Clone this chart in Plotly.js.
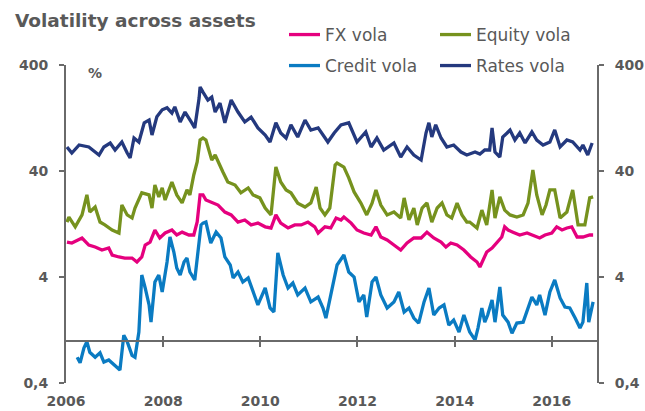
<!DOCTYPE html>
<html>
<head>
<meta charset="utf-8">
<script src="https://cdn.plot.ly/plotly-3.0.1.min.js"></script>
<style>html,body{margin:0;padding:0;background:#fff;}#chart{width:645px;height:411px;}</style>
</head>
<body>
<div id="chart"></div>
<script>
// ---- data ----
var rtYears = [2006.02,2006.12,2006.27,2006.47,2006.60,2006.68,2006.78,2006.91,2007.01,2007.15,2007.26,2007.32,2007.40,2007.50,2007.61,2007.71,2007.77,2007.87,2007.98,2008.08,2008.18,2008.24,2008.35,2008.45,2008.59,2008.65,2008.74,2008.76,2008.82,2008.86,2008.92,2009.00,2009.07,2009.17,2009.27,2009.40,2009.54,2009.68,2009.81,2009.95,2010.10,2010.20,2010.32,2010.42,2010.53,2010.63,2010.77,2010.92,2011.04,2011.19,2011.33,2011.39,2011.52,2011.66,2011.82,2011.99,2012.17,2012.28,2012.40,2012.54,2012.75,2012.89,2013.02,2013.16,2013.31,2013.41,2013.47,2013.53,2013.61,2013.72,2013.84,2013.98,2014.13,2014.25,2014.42,2014.52,2014.62,2014.72,2014.77,2014.83,2014.93,2014.99,2015.08,2015.14,2015.24,2015.34,2015.45,2015.59,2015.69,2015.82,2015.96,2016.06,2016.17,2016.31,2016.43,2016.58,2016.64,2016.74,2016.83];
var rtVals  = [67.4,59.1,70.4,67.4,60.4,56.6,67.4,73.5,63.1,75.1,59.1,53.1,81.9,75.1,113.8,121,87.4,130,151,158,141,161,116,144,113.8,102,195,248,222,208,187,199,144,175,114,187,144,116,129,102,87.4,75.1,114,91.3,81.9,109,83.7,121,97.5,102,81.9,75.1,91.3,109,114,75.1,93.3,67.4,81.9,63.1,73.5,54.2,67.4,56.6,50.8,91.3,114,83.7,109,81.9,67.4,70.4,60.4,56.6,60.4,57.8,63.1,63.1,102,60.4,54.2,83.7,91.3,97.5,78.4,91.3,73.5,93.3,78.4,70.4,75.1,97.5,67.4,78.4,75.1,63.1,70.4,56.6,73.5];

var eqYears = [2006.02,2006.06,2006.19,2006.33,2006.43,2006.49,2006.60,2006.70,2006.80,2006.95,2007.09,2007.15,2007.26,2007.36,2007.42,2007.56,2007.71,2007.77,2007.83,2007.91,2007.98,2008.04,2008.18,2008.28,2008.39,2008.49,2008.55,2008.63,2008.70,2008.76,2008.82,2008.88,2008.94,2009.00,2009.07,2009.13,2009.23,2009.33,2009.48,2009.60,2009.75,2009.85,2009.99,2010.10,2010.22,2010.32,2010.42,2010.53,2010.63,2010.77,2010.92,2011.04,2011.15,2011.23,2011.33,2011.43,2011.54,2011.58,2011.72,2011.82,2011.93,2012.07,2012.19,2012.30,2012.38,2012.48,2012.61,2012.75,2012.89,2012.96,2013.06,2013.16,2013.23,2013.33,2013.43,2013.53,2013.64,2013.74,2013.84,2013.94,2014.05,2014.15,2014.25,2014.31,2014.46,2014.56,2014.66,2014.77,2014.83,2014.93,2015.03,2015.14,2015.28,2015.41,2015.51,2015.61,2015.69,2015.80,2015.88,2015.96,2016.06,2016.17,2016.31,2016.43,2016.54,2016.68,2016.78,2016.85];
var eqVals  = [13.2,14.7,11.9,15.4,23.8,16.4,18.3,13.2,12.4,11.1,10.4,19.1,15.4,14.4,17.9,24.9,23.8,17.9,29.5,22.8,27.7,21.3,31.5,23.8,20.0,26.5,23.8,36.7,48.6,78.4,81.9,78.4,63.1,50.8,56.6,48.6,39.1,31.5,29.5,24.9,27.7,23.8,22.3,17.9,15.4,43.6,31.5,26.5,24.9,19.9,18.3,20.0,28.2,17.9,15.4,17.9,45.6,47.6,43.6,34.4,25.4,19.9,15.4,19.9,26.5,19.1,15.4,16.4,14.4,22.3,13.8,17.9,12.4,17.9,20.0,13.2,17.9,20.0,15.4,14.4,19.9,15.4,13.2,13.2,11.6,17.1,12.4,26.5,14.4,22.8,17.1,15.4,14.7,15.4,19.9,40.9,23.8,15.4,19.1,26.5,26.5,14.4,16.4,26.5,12.4,12.4,22.3,22.8];

var fxYears = [2006.02,2006.12,2006.33,2006.47,2006.60,2006.74,2006.88,2006.95,2007.09,2007.21,2007.36,2007.46,2007.56,2007.63,2007.73,2007.83,2007.93,2008.04,2008.18,2008.28,2008.39,2008.53,2008.63,2008.70,2008.76,2008.82,2008.88,2008.98,2009.13,2009.27,2009.40,2009.54,2009.68,2009.81,2009.95,2010.10,2010.22,2010.32,2010.42,2010.57,2010.71,2010.84,2010.98,2011.12,2011.19,2011.33,2011.45,2011.56,2011.66,2011.72,2011.87,2011.99,2012.13,2012.28,2012.38,2012.48,2012.61,2012.75,2012.89,2013.02,2013.16,2013.31,2013.43,2013.57,2013.72,2013.82,2013.92,2014.05,2014.19,2014.33,2014.46,2014.52,2014.58,2014.66,2014.77,2014.87,2014.97,2015.03,2015.10,2015.20,2015.34,2015.49,2015.61,2015.75,2015.86,2016.00,2016.10,2016.21,2016.31,2016.41,2016.52,2016.64,2016.78,2016.85];
var fxVals  = [8.55,8.37,9.33,8.01,7.67,7.19,7.51,6.45,6.18,6.04,6.04,5.54,6.18,8.01,8.55,11.1,9.33,10.4,11.1,9.96,10.6,9.96,9.96,13.2,23.8,23.8,21.3,20.4,19.1,16.4,15.4,13.2,13.8,12.4,12.9,11.9,11.6,15.4,12.9,11.6,12.4,12.4,13.2,11.9,10.4,11.9,11.6,14.4,13.8,14.7,12.9,11.1,10.4,9.96,11.9,9.54,8.93,8.01,7.19,8.37,9.33,9.33,10.6,9.33,8.55,7.67,8.37,8.01,7.19,6.18,5.54,4.97,5.79,6.88,7.51,8.55,9.54,11.9,11.1,10.6,9.96,10.4,9.96,9.33,9.96,10.4,11.9,11.1,11.6,11.9,9.54,9.54,9.96,9.96];

var crYears = [2006.23,2006.29,2006.37,2006.43,2006.49,2006.60,2006.70,2006.78,2006.88,2007.01,2007.11,2007.19,2007.26,2007.36,2007.42,2007.50,2007.56,2007.63,2007.71,2007.75,2007.83,2007.91,2007.98,2008.08,2008.14,2008.22,2008.28,2008.35,2008.43,2008.49,2008.55,2008.65,2008.74,2008.78,2008.82,2008.88,2008.98,2009.09,2009.19,2009.27,2009.38,2009.44,2009.54,2009.64,2009.75,2009.85,2009.95,2010.10,2010.20,2010.28,2010.36,2010.47,2010.57,2010.67,2010.77,2010.92,2011.04,2011.19,2011.29,2011.35,2011.45,2011.58,2011.72,2011.82,2011.93,2012.03,2012.13,2012.19,2012.30,2012.38,2012.48,2012.61,2012.75,2012.85,2012.96,2013.06,2013.16,2013.26,2013.37,2013.47,2013.57,2013.68,2013.78,2013.88,2013.98,2014.09,2014.19,2014.31,2014.42,2014.48,2014.56,2014.62,2014.68,2014.77,2014.83,2014.93,2014.99,2015.10,2015.18,2015.28,2015.41,2015.51,2015.59,2015.69,2015.75,2015.86,2015.96,2016.06,2016.17,2016.27,2016.37,2016.48,2016.58,2016.64,2016.72,2016.76,2016.85];
var crVals  = [0.70,0.62,0.86,0.98,0.78,0.70,0.77,0.63,0.66,0.59,0.53,1.13,0.98,0.73,0.70,1.21,4.18,3.15,2.18,1.50,3.59,4.18,2.89,5.54,9.54,6.88,4.87,4.18,5.54,6.04,4.46,3.75,9.33,12.4,12.9,13.2,8.37,10.6,9.33,6.18,5.19,3.92,4.46,3.59,3.92,2.89,2.18,3.15,2.04,1.87,6.74,4.18,3.15,3.51,2.71,3.15,2.33,2.59,2.04,1.64,2.71,5.19,6.45,4.46,4.00,2.33,2.71,1.68,3.59,4.00,2.71,2.04,2.33,2.89,1.87,2.04,1.64,1.47,2.33,3.15,1.75,2.04,2.18,1.41,1.57,1.21,1.75,1.21,1.02,1.32,2.04,1.50,1.75,2.43,1.50,3.22,1.75,1.50,1.18,1.47,1.50,2.04,2.59,2.18,2.71,1.75,2.89,3.75,2.54,2.08,2.04,1.64,1.32,1.50,3.51,1.50,2.33];

var yTickVals = [0.4, 4, 40, 400];
var yTickText = ['0,4', '4', '40', '400'];
var xTickYears = [2006, 2008, 2010, 2012, 2014, 2016];
var xInnerTicks = [2008, 2010, 2012, 2014, 2016];

// ---- styling ----
var grey = '#595959';
var axisGrey = '#6a6a6a';
var tickFont = {family: 'DejaVu Sans', size: 14, weight: 'bold', color: grey};
var legFont = {family: 'DejaVu Sans', size: 17, color: grey};
var yRange = [Math.log10(0.4), Math.log10(400)];
var xRange = [2006, 2016.93];
var crossPos = (0 - yRange[0]) / (yRange[1] - yRange[0]);

function series(name, xs, ys, color, legend) {
  return {type: 'scatter', mode: 'lines', name: name, x: xs, y: ys,
          line: {color: color, width: 3.3}, legend: legend, hoverinfo: 'skip'};
}

var traces = [
  series('FX vola', fxYears, fxVals, '#E5007E', 'legend'),
  series('Equity vola', eqYears, eqVals, '#76921E', 'legend'),
  series('Credit vola', crYears, crVals, '#0A7BC2', 'legend2'),
  series('Rates vola', rtYears, rtVals, '#24397E', 'legend2'),
  {type: 'scatter', x: [], y: [], xaxis: 'x2', yaxis: 'y', showlegend: false},
  {type: 'scatter', x: [], y: [], xaxis: 'x3', yaxis: 'y', showlegend: false},
  {type: 'scatter', x: [], y: [], xaxis: 'x', yaxis: 'y2', showlegend: false}
];

var legendCommon = {orientation: 'h', xanchor: 'left', yanchor: 'middle',
                    entrywidth: 105, entrywidthmode: 'pixels', itemwidth: 31,
                    font: legFont, bgcolor: 'rgba(0,0,0,0)', traceorder: 'normal'};

var layout = {
  width: 645, height: 411,
  margin: {l: 66, r: 48, t: 65, b: 28, pad: 0, autoexpand: false},
  paper_bgcolor: '#fff', plot_bgcolor: '#fff',
  showlegend: true,
  title: {text: 'Volatility across assets', xref: 'container', x: 15/645, xanchor: 'left',
          yref: 'container', y: 1 - 21/411, yanchor: 'middle',
          font: {family: 'DejaVu Sans', size: 18.5, weight: 'bold', color: grey}},
  xaxis: {range: xRange, type: 'linear', tickvals: xTickYears, ticktext: xTickYears.map(String),
          showline: false, zeroline: false, showgrid: false, ticks: '',
          tickfont: tickFont, ticklabelstandoff: 8, fixedrange: true, automargin: false},
  xaxis2: {overlaying: 'x', anchor: 'free', position: crossPos, range: xRange, type: 'linear',
           showline: true, linecolor: axisGrey, linewidth: 2, showgrid: false, zeroline: false,
           tickvals: xInnerTicks, ticks: 'outside', ticklen: 5, tickwidth: 2, tickcolor: axisGrey,
           showticklabels: false},
  xaxis3: {overlaying: 'x', anchor: 'free', position: crossPos, range: xRange, type: 'linear',
           showline: false, showgrid: false, zeroline: false,
           tickvals: xInnerTicks, ticks: 'inside', ticklen: 5, tickwidth: 2, tickcolor: axisGrey,
           showticklabels: false},
  yaxis: {type: 'log', range: yRange, tickvals: yTickVals, ticktext: yTickText,
          showline: true, linecolor: axisGrey, linewidth: 2, showgrid: false, zeroline: false,
          ticks: 'outside', ticklen: 5, tickwidth: 2, tickcolor: axisGrey,
          tickfont: tickFont, ticklabelstandoff: 8, automargin: false},
  yaxis2: {type: 'log', range: yRange, overlaying: 'y', side: 'right', tickvals: yTickVals, ticktext: yTickText,
           showline: true, linecolor: axisGrey, linewidth: 2, showgrid: false, zeroline: false,
           ticks: 'outside', ticklen: 5, tickwidth: 2, tickcolor: axisGrey,
           tickfont: tickFont, ticklabelstandoff: 8, automargin: false},
  legend: Object.assign({}, legendCommon, {x: (284 - 66)/531, y: (383 - 35)/318}),
  legend2: Object.assign({}, legendCommon, {x: (284 - 66)/531, y: (383 - 66)/318}),
  annotations: [
    {text: '%', xref: 'paper', yref: 'paper', x: (95 - 66)/531, y: (383 - 73)/318,
     xanchor: 'center', yanchor: 'middle', showarrow: false,
     font: {family: 'DejaVu Sans', size: 14, weight: 'bold', color: grey}}
  ]
};

Plotly.newPlot('chart', traces, layout, {displayModeBar: false, staticPlot: true});
</script>
</body>
</html>
